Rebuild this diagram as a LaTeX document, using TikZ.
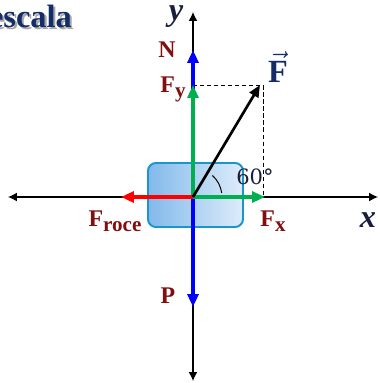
\documentclass[tikz,border=0pt]{standalone}
\usepackage{fontspec}
\setmainfont{Liberation Serif}
\newfontfamily\anglefont{DejaVu Serif}
\usetikzlibrary{arrows.meta,positioning}
\definecolor{forceblue}{RGB}{0,0,255}
\definecolor{forcegreen}{RGB}{0,176,80}
\definecolor{forcered}{RGB}{255,0,0}
\definecolor{labelred}{RGB}{128,16,16}
\definecolor{navyblue}{RGB}{20,45,105}
\definecolor{axisink}{RGB}{25,30,60}
\definecolor{boxedge}{RGB}{25,150,205}
\definecolor{boxleft}{RGB}{130,185,235}
\definecolor{boxright}{RGB}{222,236,250}
\newcommand{\lowsub}[1]{\raisebox{-3.5pt}{\fontsize{15}{17}\selectfont #1}}
\tikzset{
  axisarr/.style={{Latex[length=0.22cm,width=0.22cm]}-{Latex[length=0.22cm,width=0.22cm]},line width=0.9pt,color=black},
  forcearr/.style={-{Triangle[length=0.32cm,width=0.27cm]},line width=2.3pt},
  dimline/.style={line width=0.7pt,dash pattern=on 3pt off 2pt,color=black},
  forcelabel/.style={inner sep=0pt,font=\fontsize{17}{20}\selectfont\bfseries,color=labelred},
  axislabel/.style={inner sep=0pt,anchor=base,font=\fontsize{23}{27}\selectfont\bfseries\itshape,color=axisink},
  blockbox/.style={rectangle,rounded corners=0.2cm,draw=boxedge,line width=1.4pt,
    left color=boxleft,right color=boxright,minimum width=2.375cm,minimum height=1.6cm}
}

\begin{document}
\begin{tikzpicture}[x=0.025cm,y=0.025cm]
  \useasboundingbox (-193,-186) rectangle (187,197);

  %% title (cut at the left edge)
  \node[inner sep=0pt,anchor=base east,font=\fontsize{23}{27}\selectfont\bfseries,color=navyblue] (title)
    at (-121,170) {\rlap{\hspace{1.5pt}\raisebox{-1.5pt}{\color{black!35}escala}}escala};

  %% block
  \node[blockbox] (block) at (2.5,2) {};

  %% axes
  \coordinate (O) at (0,0);
  \coordinate (xleft) at (-185,0);
  \coordinate (xright) at (185,0);
  \coordinate (ybottom) at (0,-184);
  \coordinate (ytop) at (0,185);
  \draw[axisarr] (xleft) -- (xright);
  \draw[axisarr] (ybottom) -- (ytop);

  %% force tips
  \coordinate (Ntip) at (0,147);
  \coordinate (Fytip) at (0,112);
  \coordinate (Fxtip) at (72,0);
  \coordinate (Ftip) at (67,112);
  \coordinate (Ptip) at (0,-110);
  \coordinate (Rtip) at (-72,0);
  \coordinate (corner) at (70,112);
  \coordinate (foot) at (70,0);

  %% projections
  \draw[dimline] (Fytip) -- (corner) -- (foot);

  %% forces
  \draw[forcearr,color=forceblue] (O) -- (Ntip);
  \draw[forcearr,color=forceblue] (O) -- (Ptip);
  \draw[forcearr,color=forcegreen] (O) -- (Fytip);
  \draw[forcearr,color=forcered] (O) -- (Rtip);
  \draw[forcearr,color=forcegreen] (O) -- (Fxtip);
  \draw[-{Triangle[length=0.3cm,width=0.25cm]},line width=1.9pt,color=black] (O) -- (Ftip);

  %% angle
  \draw[line width=0.7pt] (O) ++(8:29) arc[start angle=8,end angle=48,radius=29];
  \node[inner sep=0pt,font=\fontsize{15}{18}\anglefont,color=axisink] (angle) at (62,20) {60°};

  %% labels
  \node[forcelabel] (Nlabel) at (-26,147) {N};
  \node[forcelabel] (Fylabel) at (-20,108) {F\lowsub{y}};
  \node[forcelabel] (Plabel) at (-25,-99) {P};
  \node[forcelabel] (Rlabel) at (-78,-24) {F\lowsub{roce}};
  \node[forcelabel] (Fxlabel) at (80,-24) {F\lowsub{x}};
  \node[inner sep=0pt,font=\fontsize{23}{27}\selectfont\bfseries,color=navyblue] (Flabel) at (85,130) {$\vec{\textbf{F}}$};
  \node[axislabel] (xlabel) at (175,-30) {x};
  \node[axislabel] (ylabel) at (-17,177) {y};
\end{tikzpicture}
\end{document}
